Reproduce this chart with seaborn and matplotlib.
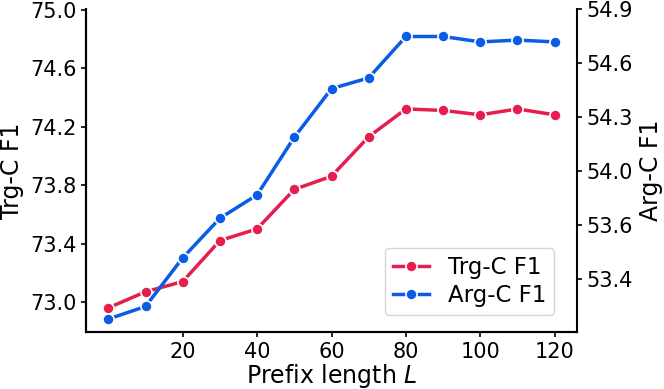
import matplotlib
matplotlib.use("Agg")
import matplotlib.pyplot as plt
import seaborn as sns
import pandas as pd
from matplotlib.ticker import FixedLocator, FixedFormatter

# values
prefix_len = [0, 10, 20, 30, 40, 50, 60, 70, 80, 90, 100, 110, 120]
trg_f1 = [72.96, 73.07, 73.14, 73.42, 73.50, 73.77, 73.86, 74.13, 74.32, 74.31, 74.28, 74.32, 74.28]
arg_f1 = [53.18, 53.25, 53.52, 53.74, 53.87, 54.19, 54.46, 54.52, 54.75, 54.75, 54.72, 54.73, 54.72]

x_ticks = [20, 40, 60, 80, 100, 120]
left_ticks = [73.0, 73.4, 73.8, 74.2, 74.6, 75.0]
right_ticks = [53.4, 53.7, 54.0, 54.3, 54.6, 54.9]
right_labels = ["53.4", "53.6", "54.0", "54.3", "54.6", "54.9"]

RED = "#E61E4D"
BLUE = "#0A5CE6"

plt.rcParams['font.family'] = ['DejaVu Sans']

df = pd.DataFrame({'L': prefix_len, 'trg': trg_f1, 'arg': arg_f1})

fig, ax = plt.subplots(figsize=(6.64, 3.89), dpi=100)
fig.subplots_adjust(left=86 / 664, right=577 / 664, top=1 - 9.5 / 389, bottom=1 - 332 / 389)
ax2 = ax.twinx()

sns.lineplot(data=df, x='L', y='trg', ax=ax, color=RED, marker='o', markersize=8,
             markeredgecolor='white', markeredgewidth=1.2, linewidth=2.5, label='Trg-C F1', legend=False)
sns.lineplot(data=df, x='L', y='arg', ax=ax2, color=BLUE, marker='o', markersize=8,
             markeredgecolor='white', markeredgewidth=1.2, linewidth=2.5, label='Arg-C F1', legend=False)

ax.set_xlim(-6, 126)
ax.set_xticks(x_ticks)
ax.set_ylim(72.795, 75.0)
ax.set_yticks(left_ticks)
ax.set_yticklabels([f"{v:.1f}" for v in left_ticks])
ax2.set_ylim(53.108, 54.9)
ax2.yaxis.set_major_locator(FixedLocator(right_ticks))
ax2.yaxis.set_major_formatter(FixedFormatter(right_labels))

ax.set_xlabel('Prefix length $L$', fontsize=17, labelpad=0)
ax.set_ylabel('Trg-C F1', fontsize=17)
ax2.set_ylabel('Arg-C F1', fontsize=17)
ax.tick_params(labelsize=15, width=1.2)
ax2.tick_params(labelsize=15, width=1.2)

for a in (ax, ax2):
    a.spines['top'].set_visible(False)
    for s in a.spines.values():
        s.set_linewidth(1.5)
ax.spines['right'].set_visible(False)

h1, l1 = ax.get_legend_handles_labels()
h2, l2 = ax2.get_legend_handles_labels()
ax2.legend(h1 + h2, l1 + l2, loc='lower right', bbox_to_anchor=(0.953, 0.053),
           borderaxespad=0, fontsize=16.5, handlelength=1.6, labelspacing=0.2, borderpad=0.35)

plt.savefig('out.png', dpi=100)
